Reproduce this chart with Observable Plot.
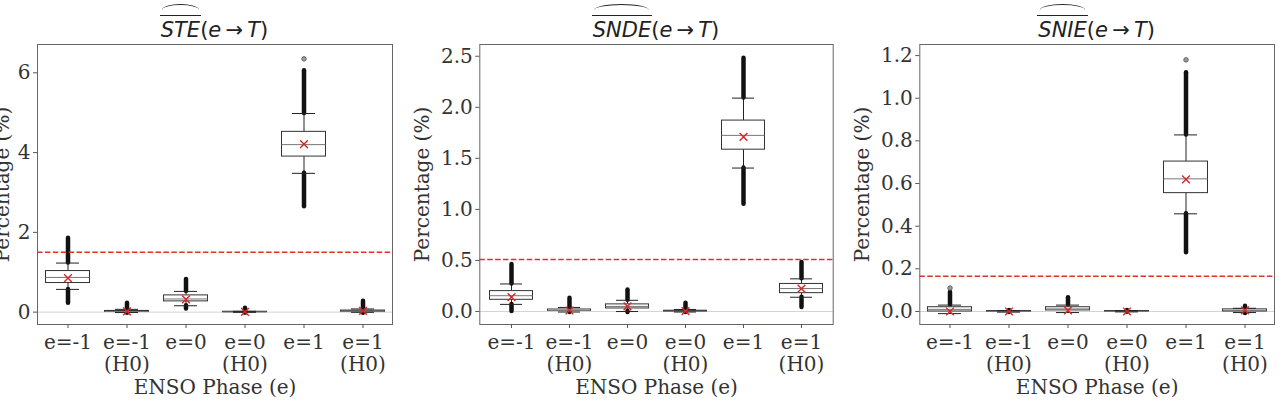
<!DOCTYPE html>
<html>
<head>
<meta charset="utf-8">
<script src="https://cdn.jsdelivr.net/npm/d3@7"></script>
<script src="https://cdn.jsdelivr.net/npm/@observablehq/plot@0.6"></script>
<style>
  html, body { margin: 0; padding: 0; background: #fff; }
  #fig { position: relative; width: 1284px; height: 402px; overflow: hidden; }
  .panel { position: absolute; top: 0; }
  .title {
    position: absolute; width: 300px; text-align: center;
    font-family: "DejaVu Sans", sans-serif; font-size: 21px; color: #222;
    line-height: 24px; top: 18px; white-space: nowrap;
  }
  .title i { font-style: oblique; }
  .hat { position: relative; display: inline-block; font-style: oblique; }
  .hat::before {
    content: ""; position: absolute; left: -1px; right: -1px; top: -3px;
    border-top: 1.3px solid #222;
  }
  .hat::after {
    content: ""; position: absolute; left: 3%; right: 3%; top: -14px; height: 5px;
    border-top: 1.3px solid #222; border-radius: 50% 50% 0 0 / 100% 100% 0 0;
  }
</style>
</head>
<body>
<div id="fig"></div>
<script>
// ENSO phase categories (x axis), with the null-hypothesis (H0) counterparts
const phases = ["e=-1", "e=-1\n(H0)", "e=0", "e=0\n(H0)", "e=1", "e=1\n(H0)"];

// STE(e -> T): box statistics per phase, in %
const steQ1     = [0.73, 0.005, 0.27, 0.0,   3.90, 0.01];
const steMedian = [0.87, 0.015, 0.33, 0.005, 4.20, 0.02];
const steQ3     = [1.03, 0.03,  0.42, 0.01,  4.52, 0.04];
const steWLo    = [0.57, -0.01, 0.16, -0.005, 3.48, -0.005];
const steWHi    = [1.23, 0.07,  0.52, 0.02,  4.98, 0.08];
const steMean   = [0.85, 0.02,  0.32, 0.005, 4.21, 0.03];
const steOutLo  = [0.22, -0.03, 0.08, -0.03, 2.64, -0.03];
const steOutHi  = [1.85, 0.22,  0.82, 0.10,  6.05, 0.27];
const steOutMax = [null, null, null, null, 6.35, null];
const steThreshold = 1.5;

// SNDE(e -> T)
const sndeQ1     = [0.115, 0.005, 0.03, 0.0,   1.585, 0.18];
const sndeMedian = [0.155, 0.01,  0.05, 0.003, 1.725, 0.225];
const sndeQ3     = [0.20,  0.02,  0.07, 0.008, 1.87,  0.27];
const sndeWLo    = [0.07, -0.005, 0.0, -0.005, 1.405, 0.14];
const sndeWHi    = [0.27,  0.04,  0.11, 0.02,  2.09,  0.32];
const sndeMean   = [0.14,  0.01,  0.05, 0.004, 1.71,  0.225];
const sndeOutLo  = [0.0,  -0.01, -0.01, -0.01, 1.05,  0.04];
const sndeOutHi  = [0.46,  0.13,  0.21, 0.08,  2.48,  0.48];
const sndeOutMax = [null, null, null, null, null, null];
const sndeThreshold = 0.51;

// SNIE(e -> T)
const snieQ1     = [0.0,  -0.001, 0.005, 0.0,   0.555, 0.0];
const snieMedian = [0.01,  0.0,   0.012, 0.0,   0.622, 0.005];
const snieQ3     = [0.02,  0.002, 0.02,  0.002, 0.703, 0.01];
const snieWLo    = [-0.01, -0.003, -0.005, -0.002, 0.458, -0.005];
const snieWHi    = [0.03,  0.004, 0.03,  0.004, 0.828, 0.015];
const snieMean   = [0.0,   0.0,   0.005, 0.0,   0.62,  0.005];
const snieOutLo  = [-0.005, -0.005, 0.0, -0.003, 0.275, -0.01];
const snieOutHi  = [0.09,  0.005, 0.065, 0.005, 1.12,  0.025];
const snieOutMax = [0.11, null, null, null, 1.18, null];
const snieThreshold = 0.165;

const steTicks  = [0, 2, 4, 6];
const sndeTicks = [0, 0.5, 1.0, 1.5, 2.0, 2.5];
const snieTicks = [0, 0.2, 0.4, 0.6, 0.8, 1.0, 1.2];

function rowsOf(q1, med, q3, wLo, wHi, mean, outLo, outHi, outMax) {
  return phases.map((phase, i) => ({
    phase, q1: q1[i], med: med[i], q3: q3[i], wLo: wLo[i], wHi: wHi[i],
    mean: mean[i], outLo: outLo[i], outHi: outHi[i], outMax: outMax[i]
  }));
}

const panels = [
  {
    name: "STE", left: 0, width: 400, marginLeft: 37, marginRight: 8,
    domain: [-0.31, 6.71], ticks: steTicks, fmt: d => String(d),
    rows: rowsOf(steQ1, steMedian, steQ3, steWLo, steWHi, steMean, steOutLo, steOutHi, steOutMax),
    threshold: steThreshold, ylabelDx: -35
  },
  {
    name: "SNDE", left: 410, width: 430, marginLeft: 69.3, marginRight: 7.3,
    domain: [-0.127, 2.615], ticks: sndeTicks, fmt: d => d.toFixed(1),
    rows: rowsOf(sndeQ1, sndeMedian, sndeQ3, sndeWLo, sndeWHi, sndeMean, sndeOutLo, sndeOutHi, sndeOutMax),
    threshold: sndeThreshold, ylabelDx: -57
  },
  {
    name: "SNIE", left: 840, width: 444, marginLeft: 79.3, marginRight: 10,
    domain: [-0.061, 1.252], ticks: snieTicks, fmt: d => d.toFixed(1),
    rows: rowsOf(snieQ1, snieMedian, snieQ3, snieWLo, snieWHi, snieMean, snieOutLo, snieOutHi, snieOutMax),
    threshold: snieThreshold, ylabelDx: -57
  }
];

const fig = document.getElementById("fig");
const ink = "#333";
const boxInset = 7.5;
const capInset = 18;

for (const p of panels) {
  const rows = p.rows;
  const chart = Plot.plot({
    width: p.width,
    height: 402,
    marginTop: 44,
    marginBottom: 78,
    marginLeft: p.marginLeft,
    marginRight: p.marginRight,
    style: { fontFamily: "DejaVu Serif", fontSize: "20px", color: ink, background: "transparent" },
    x: { type: "band", domain: phases, padding: 0, axis: null },
    y: { domain: p.domain, axis: null },
    marks: [
      Plot.ruleY([0], { stroke: "#d3d3d3", strokeWidth: 1 }),
      // whiskers
      Plot.ruleX(rows, { x: "phase", y1: "wLo", y2: "q1", stroke: "#222" }),
      Plot.ruleX(rows, { x: "phase", y1: "q3", y2: "wHi", stroke: "#222" }),
      // dense runs of outliers beyond the whiskers
      Plot.ruleX(rows.filter(d => d.outLo < d.wLo), {
        x: "phase", y1: "outLo", y2: "wLo", stroke: "#111", strokeWidth: 4.5, strokeLinecap: "round"
      }),
      Plot.ruleX(rows.filter(d => d.outHi > d.wHi), {
        x: "phase", y1: "wHi", y2: "outHi", stroke: "#111", strokeWidth: 4.5, strokeLinecap: "round"
      }),
      // most extreme single outliers
      Plot.dot(rows.filter(d => d.outMax != null), {
        x: "phase", y: "outMax", r: 2.3, fill: "#999", stroke: "#555", strokeWidth: 0.8
      }),
      // boxes (interquartile range)
      Plot.barY(rows, {
        x: "phase", y1: "q1", y2: "q3", fill: "white", stroke: "#333", strokeWidth: 1,
        insetLeft: boxInset, insetRight: boxInset
      }),
      Plot.tickY(rows, { x: "phase", y: "med", stroke: "#777", insetLeft: boxInset, insetRight: boxInset }),
      // whisker caps
      Plot.tickY(rows, { x: "phase", y: "wLo", stroke: "#222", insetLeft: capInset, insetRight: capInset }),
      Plot.tickY(rows, { x: "phase", y: "wHi", stroke: "#222", insetLeft: capInset, insetRight: capInset }),
      // means
      Plot.dot(rows, { x: "phase", y: "mean", symbol: "times", stroke: "#d62728", r: 3.6, strokeWidth: 1.4 }),
      // significance threshold
      Plot.ruleY([p.threshold], { stroke: "#e0312b", strokeWidth: 1.6, strokeDasharray: "5.5,2.4" }),
      Plot.frame({ stroke: "#666" }),
      Plot.axisY({ ticks: p.ticks, tickFormat: p.fmt, tickSize: 4, tickPadding: 3, label: null, stroke: "#555" }),
      Plot.axisX({ tickSize: 4, tickPadding: 4.5, label: null, lineHeight: 1.1, stroke: "#555" }),
      Plot.text(["Percentage (%)"], {
        frameAnchor: "left", textAnchor: "middle", lineAnchor: "middle",
        rotate: -90, dx: p.ylabelDx, fill: ink
      }),
      Plot.text(["ENSO Phase (e)"], {
        frameAnchor: "bottom", textAnchor: "middle", lineAnchor: "middle", dy: 63, fill: ink
      })
    ]
  });
  chart.classList.add("panel");
  chart.style.left = p.left + "px";
  fig.appendChild(chart);

  // panel title with a wide hat over the effect name
  const t = document.createElement("div");
  t.className = "title";
  const cx = p.left + p.marginLeft + (p.width - p.marginLeft - p.marginRight) / 2;
  t.style.left = (cx - 150) + "px";
  t.innerHTML = `<span class="hat">${p.name}</span>(<i>e</i>\u2009\u2192\u2009<i>T</i>)`;
  fig.appendChild(t);
}
</script>
</body>
</html>
